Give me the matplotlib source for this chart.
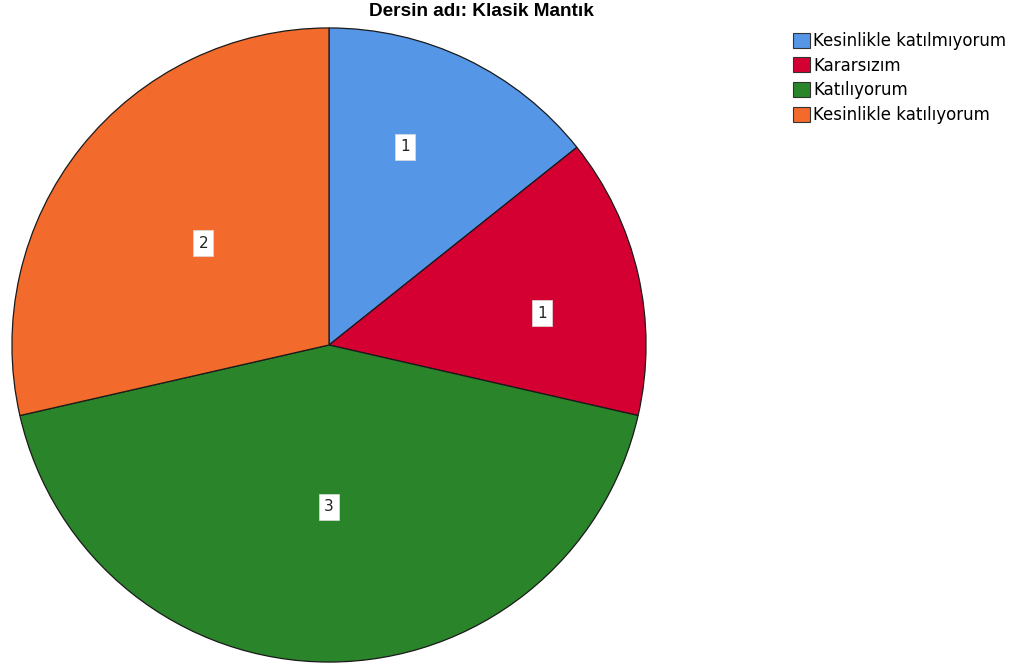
import numpy as np
import matplotlib
matplotlib.use('Agg')
import matplotlib.pyplot as plt

# data
categories = ['Kesinlikle katılmıyorum', 'Kararsızım', 'Katılıyorum', 'Kesinlikle katılıyorum']
counts = [1, 1, 3, 2]
colors = ['#5596E6', '#D50032', '#2A8429', '#F26A2C']
title = 'Dersin adı: Klasik Mantık'

# label placement (angle in degrees, fraction of radius), as SPSS put them
label_pos = [(69, 0.67), (8.5, 0.68), (-90, 0.51), (141, 0.51)]

fig = plt.figure(figsize=(10.2, 6.68), dpi=100)
W, H = 1020, 668
cx, cy, r = 329, 345, 318
ax = fig.add_axes([(cx - r) / W, (H - cy - r) / H, 2 * r / W, 2 * r / H])

wedges, _ = ax.pie(counts, colors=colors, startangle=90, counterclock=False,
                   radius=1, wedgeprops=dict(edgecolor='#1a1a1a', linewidth=0.9))
ax.set_xlim(-1.003, 1.003)
ax.set_ylim(-1.003, 1.003)
ax.set_aspect('equal')
ax.axis('off')

for n, (ang, d) in zip(counts, label_pos):
    a = np.deg2rad(ang)
    ax.text(d * np.cos(a), d * np.sin(a), str(n), ha='center', va='center',
            fontsize=11, family='DejaVu Sans', color='#222222',
            bbox=dict(boxstyle='square,pad=0.35', facecolor='white', edgecolor='#dddddd', linewidth=0.5))

fig.text(481 / W, 1 - 12 / H, title, ha='center', va='center',
         fontsize=13.7, fontweight='bold', family='Liberation Sans')

handles = [plt.Rectangle((0, 0), 1, 1, facecolor=c, edgecolor='#333333', linewidth=0.8) for c in colors]
leg = fig.legend(handles, categories, loc='upper left', bbox_to_anchor=(793 / W, 1 - 32 / H),
                 frameon=False, handlelength=1.05, handleheight=1.0,
                 handletextpad=0.15, labelspacing=0.4, borderpad=0, borderaxespad=0,
                 prop={'family': 'DejaVu Sans', 'size': 12})

fig.savefig('out.png', dpi=100)
